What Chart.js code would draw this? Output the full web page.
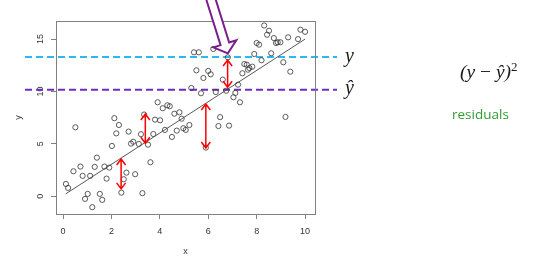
<!DOCTYPE html>
<html lang="en">
<head>
<meta charset="UTF-8">
<title>Residuals</title>
<script src="https://cdn.jsdelivr.net/npm/chart.js"></script>
<style>
  html, body { margin: 0; padding: 0; background: #fff; }
  #wrap { position: relative; width: 559px; height: 265px; overflow: hidden; }
  canvas { position: absolute; left: 0; top: 0; }
  .math { position: absolute; font-family: "Liberation Serif", serif; font-style: italic; color: #1a1a1a; white-space: nowrap; }
  #resid { position: absolute; left: 452px; top: 105px; font-family: "Open Sans", sans-serif; font-size: 13.5px; color: #339933; }
</style>
<script>
// observed points
const xs = [0.12,0.21,0.43,0.51,0.72,0.81,0.91,1.02,1.12,1.21,1.31,1.40,1.52,1.62,1.71,1.80,1.91,2.02,2.12,2.20,
            2.31,2.41,2.51,2.62,2.71,2.81,2.90,2.98,3.13,3.22,3.28,3.35,3.51,3.61,3.73,3.80,3.91,4.01,4.12,4.21,
            4.31,4.41,4.50,4.60,4.70,4.81,4.90,4.97,5.07,5.22,5.30,5.41,5.51,5.61,5.70,5.80,5.90,6.00,6.10,6.21,
            6.31,6.42,6.49,6.60,6.74,6.81,6.86,7.04,7.12,7.23,7.31,7.41,7.49,7.59,7.64,7.70,7.82,7.90,8.00,8.10,
            8.20,8.31,8.43,8.51,8.60,8.71,8.80,8.87,8.98,9.10,9.19,9.30,9.39,9.71,9.81,10.00];
const ys = [1.17,0.79,2.38,6.58,2.83,1.94,-0.26,0.22,1.94,-1.05,2.80,3.68,0.22,-0.35,2.83,1.68,2.73,4.80,7.45,6.00,
            6.80,0.34,1.62,2.25,6.17,5.02,5.20,2.10,4.99,5.92,0.29,7.80,4.92,3.24,5.94,7.31,8.97,7.25,8.40,6.33,
            8.68,8.59,5.66,7.88,6.26,8.01,7.40,6.49,6.33,6.80,10.33,13.74,12.02,13.74,9.83,11.29,4.64,11.96,11.64,14.06,
            9.95,6.70,7.55,11.13,10.07,13.26,6.74,9.45,9.86,10.65,8.97,11.74,12.62,12.56,12.08,12.24,12.37,13.58,14.63,14.47,
            12.98,16.30,15.42,15.80,13.65,15.10,14.63,14.70,14.70,12.79,7.57,15.17,11.89,15.00,15.90,15.70];

// fitted line
const lineX = [0.11, 10.0];
const lineY = [0.22, 15.0];

// reference levels
const yObs = 13.3;
const yHat = 10.17;
const refX = [-1.57, 11.32];

// residual arrows
const arrowX    = [2.4, 3.4, 5.9, 6.8];
const arrowFrom = [0.7, 5.06, 4.6, 10.4];
const arrowTo   = [3.55, 7.85, 8.8, 13.0];

// the highlighted point
const focusX = 6.81;
const focusY = 13.26;

const xTicks = [0, 2, 4, 6, 8, 10];
const yTicks = [0, 5, 10, 15];

function pts(a, b) { return a.map((v, i) => ({ x: v, y: b[i] })); }

const extras = {
  id: 'extras',
  afterDatasetsDraw(chart) {
    const { ctx, chartArea: ca, scales: { x, y } } = chart;
    ctx.save();
    // box
    ctx.strokeStyle = '#808080';
    ctx.lineWidth = 1;
    ctx.strokeRect(Math.round(ca.left) + 0.5, Math.round(ca.top) + 0.5,
                   Math.round(ca.right - ca.left), Math.round(ca.bottom - ca.top));

    // red double arrows
    ctx.strokeStyle = '#ff0000';
    ctx.lineWidth = 1.5;
    for (let i = 0; i < arrowX.length; i++) {
      const px = x.getPixelForValue(arrowX[i]);
      const p1 = y.getPixelForValue(arrowFrom[i]);
      const p2 = y.getPixelForValue(arrowTo[i]);
      const top = Math.min(p1, p2), bot = Math.max(p1, p2);
      ctx.beginPath();
      ctx.moveTo(px, top); ctx.lineTo(px, bot);
      ctx.moveTo(px - 4.5, top + 6); ctx.lineTo(px, top); ctx.lineTo(px + 4.5, top + 6);
      ctx.moveTo(px - 4.5, bot - 6); ctx.lineTo(px, bot); ctx.lineTo(px + 4.5, bot - 6);
      ctx.stroke();
    }

    // big hollow arrow pointing at the observed value
    const tx = x.getPixelForValue(focusX);
    const ty = y.getPixelForValue(focusY) - 4;
    const ux = 0.299, uy = 0.954;     // direction to tip
    const vx = -uy, vy = ux;          // perpendicular
    const P = (u, v) => [tx + u * ux + v * vx, ty + u * uy + v * vy];
    const shape = [P(0, 0), P(-10, 12), P(-10, 4.5), P(-80, 4.5), P(-80, -4.5), P(-10, -4.5), P(-10, -12)];
    ctx.beginPath();
    shape.forEach((p, i) => i ? ctx.lineTo(p[0], p[1]) : ctx.moveTo(p[0], p[1]));
    ctx.closePath();
    ctx.fillStyle = '#ffffff';
    ctx.fill();
    ctx.strokeStyle = '#7a1e8c';
    ctx.lineWidth = 2;
    ctx.lineJoin = 'miter';
    ctx.stroke();
    ctx.restore();
  }
};

function draw() {
  const axisFont = { family: 'Liberation Sans', size: 9 };
  new Chart(document.getElementById('c'), {
    type: 'scatter',
    data: {
      datasets: [
        { type: 'line', data: pts(lineX, lineY), showLine: true, borderColor: '#444', borderWidth: 0.9, pointRadius: 0 },
        { data: pts(xs, ys), pointStyle: 'circle', pointRadius: 2.6, borderWidth: 0.8,
          borderColor: '#333', backgroundColor: 'rgba(0,0,0,0)' },
        { type: 'line', data: pts(refX, [yObs, yObs]), showLine: true, borderColor: '#2db7ef',
          borderWidth: 2, borderDash: [7, 4], pointRadius: 0, clip: false },
        { type: 'line', data: pts(refX, [yHat, yHat]), showLine: true, borderColor: '#6f2cc4',
          borderWidth: 2, borderDash: [7, 4], pointRadius: 0, clip: false }
      ]
    },
    options: {
      responsive: false,
      animation: false,
      events: [],
      layout: { padding: { left: 0, top: 21, right: 244, bottom: 0 } },
      plugins: { legend: { display: false }, tooltip: { enabled: false } },
      scales: {
        x: {
          type: 'linear', min: -0.29, max: 10.41,
          afterFit: s => { s.height = 51; },
          afterBuildTicks: s => { s.ticks = xTicks.map(v => ({ value: v })); },
          grid: { drawOnChartArea: false, tickLength: 5, color: '#808080' },
          border: { color: '#808080' },
          ticks: { padding: 7, color: '#333', font: axisFont, maxRotation: 0 },
          title: { display: true, text: 'x', color: '#333', font: axisFont, padding: { top: 0, bottom: 7.6 } }
        },
        y: {
          type: 'linear', min: -1.7, max: 16.73,
          afterFit: s => { s.width = 56; },
          afterBuildTicks: s => { s.ticks = yTicks.map(v => ({ value: v })); },
          grid: { drawOnChartArea: false, tickLength: 5, color: '#808080' },
          border: { color: '#808080' },
          ticks: { padding: 5, color: '#333', font: axisFont, minRotation: 90, maxRotation: 90, crossAlign: 'center' },
          title: { display: true, text: 'y', color: '#333', font: axisFont, padding: { top: 13.6, bottom: 0 } }
        }
      }
    },
    plugins: [extras]
  });
}
window.addEventListener('load', draw);
</script>
</head>
<body>
<div id="wrap">
  <canvas id="c" width="559" height="265"></canvas>
  <div class="math" style="left:345px; top:44px; font-size:20px;">y</div>
  <div class="math" style="left:345px; top:76px; font-size:20px;">ŷ</div>
  <div class="math" style="left:460px; top:59px; font-size:19.5px;">(y <span style="font-style:normal">−</span> ŷ)<sup style="font-style:normal; font-size:13px; vertical-align:7px;">2</sup></div>
  <div id="resid">residuals</div>
</div>
</body>
</html>
